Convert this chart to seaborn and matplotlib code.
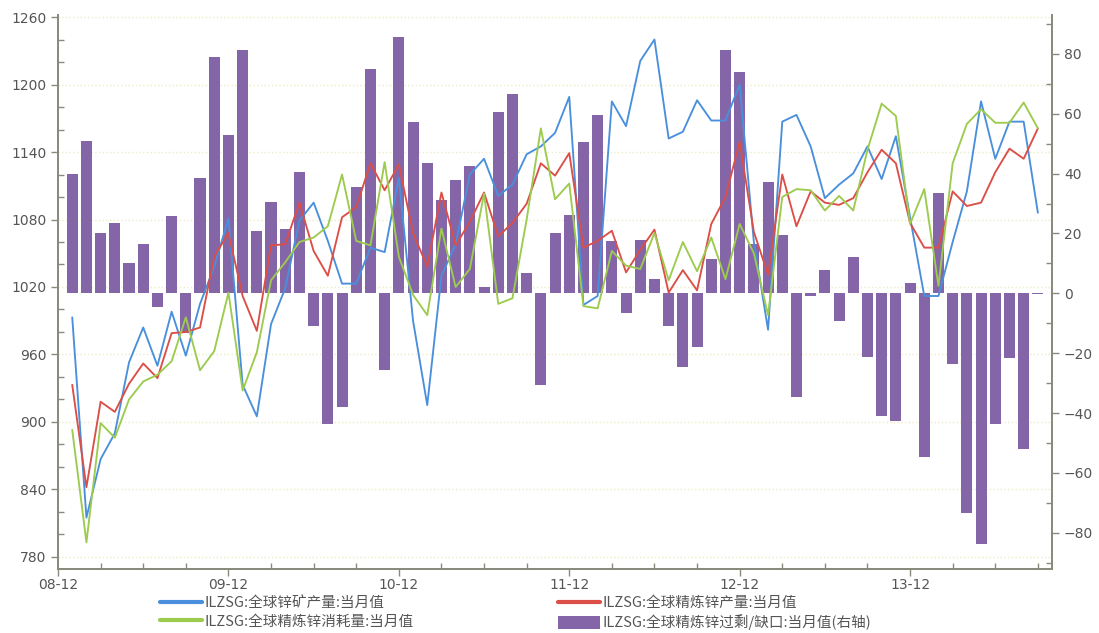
import numpy as np
import pandas as pd
import seaborn as sns
import matplotlib as mpl
import matplotlib.pyplot as plt
from matplotlib.ticker import MultipleLocator, FixedLocator
from matplotlib.lines import Line2D
from matplotlib.patches import Patch

mpl.use('Agg')

# 横轴：月份序号，0 = 2008-12
months = list(range(1, 70))
tick_pos = [0, 12, 24, 36, 48, 60]
tick_labels = ['08-12', '09-12', '10-12', '11-12', '12-12', '13-12']

# 左轴（千吨）
ore = [993, 815, 867, 890, 953, 984, 950, 998, 959, 1005, 1038, 1081, 933, 905,
       987, 1019, 1079, 1095, 1061, 1023, 1023, 1055, 1051, 1117, 990, 915, 1030, 1058,
       1120, 1134, 1101, 1111, 1138, 1145, 1157, 1189, 1004, 1012, 1185, 1163, 1221, 1240,
       1152, 1158, 1186, 1168, 1168, 1200, 1060, 982, 1167, 1173, 1145, 1099, 1111, 1121,
       1145, 1116, 1154, 1082, 1012, 1012, 1060, 1105, 1185, 1134, 1167, 1167, 1086]
refined = [933, 842, 918, 909, 934, 952, 939, 979, 980, 984, 1047, 1068, 1012, 981,
           1057, 1058, 1095, 1052, 1030, 1082, 1091, 1130, 1106, 1129, 1068, 1038, 1104, 1057,
           1078, 1104, 1065, 1077, 1094, 1130, 1119, 1139, 1055, 1061, 1070, 1033, 1053, 1071,
           1015, 1035, 1017, 1076, 1100, 1149, 1069, 1031, 1120, 1074, 1105, 1095, 1093, 1099,
           1122, 1142, 1130, 1077, 1055, 1055, 1105, 1092, 1095, 1122, 1143, 1134, 1161]
consume = [893, 793, 899, 886, 920, 936, 942, 954, 993, 946, 963, 1015, 928, 962,
           1026, 1042, 1060, 1064, 1074, 1120, 1061, 1057, 1131, 1047, 1013, 995, 1072, 1020,
           1036, 1103, 1005, 1010, 1080, 1161, 1098, 1112, 1003, 1001, 1052, 1039, 1036, 1068,
           1026, 1060, 1034, 1064, 1027, 1076, 1050, 995, 1100, 1107, 1106, 1088, 1101, 1088,
           1142, 1183, 1172, 1076, 1107, 1021, 1130, 1165, 1178, 1166, 1166, 1184, 1161]
# 右轴：过剩/缺口
balance = [40, 51, 20, 23.6, 10, 16.4, -4.5, 25.7, -13.4, 38.7, 79, 53, 81.3, 20.7,
           30.5, 21.5, 40.7, -10.8, -43.8, -38.1, 35.7, 75, -25.5, 85.8, 57.3, 43.7, 31.1, 37.9,
           42.6, 2.1, 60.7, 66.7, 6.9, -30.7, 20.1, 26.1, 50.7, 59.5, 17.4, -6.6, 17.7, 4.8,
           -10.8, -24.5, -17.9, 11.5, 81.3, 73.9, 16.5, 37.1, 19.5, -34.5, -1, 7.9, -9.1, 12.3,
           -21.3, -41.1, -42.6, 3.3, -54.7, 33.6, -23.5, -73.5, -83.7, -43.5, -21.7, -51.9, -0.3]

names = ['ILZSG:全球锌矿产量:当月值', 'ILZSG:全球精炼锌产量:当月值',
         'ILZSG:全球精炼锌消耗量:当月值', 'ILZSG:全球精炼锌过剩/缺口:当月值(右轴)']

C_BLUE, C_RED, C_GREEN, C_PURPLE = '#4a8fdb', '#dc4e48', '#9ccb4e', '#8466a8'
C_SPINE = '#8a8a7c'
C_TEXT = '#555555'
LEFT_LIM = (769.3, 1261.8)
RIGHT_LIM = (-92.1, 93)

sns.set_style('white')
plt.rcParams['font.family'] = ['DejaVu Sans', 'Noto Sans CJK SC']

fig = plt.figure(figsize=(10.99, 6.33), dpi=100)
ax = fig.add_axes([0.0528, 0.1011, 0.9045, 0.8752])   # 线（左轴）
ax2 = ax.twinx()                                      # 柱（右轴）
axg = ax.twinx()                                      # 只画网格，放在最底层

# 柱：右轴
sns.barplot(x=months, y=balance, native_scale=True, ax=ax2, color=C_PURPLE,
            saturation=1, width=0.78, errorbar=None, linewidth=0)

# 线：左轴
for vals, c in zip([ore, refined, consume], [C_BLUE, C_RED, C_GREEN]):
    sns.lineplot(x=months, y=vals, ax=ax, color=c, linewidth=1.35)

# 图层顺序：网格 < 柱 < 线
axg.set_zorder(0)
ax2.set_zorder(1)
ax.set_zorder(2)
ax.patch.set_visible(False)
ax2.patch.set_visible(False)

ax.set_xlim(0, 70)
ax.set_ylim(*LEFT_LIM)
axg.set_ylim(*LEFT_LIM)
ax2.set_ylim(*RIGHT_LIM)

ax.xaxis.set_major_locator(FixedLocator(tick_pos))
ax.set_xticklabels(tick_labels)
ax.xaxis.set_minor_locator(MultipleLocator(3))
ax.yaxis.set_major_locator(MultipleLocator(60))
ax.yaxis.set_minor_locator(MultipleLocator(20))
ax2.yaxis.set_major_locator(MultipleLocator(20))
ax2.yaxis.set_minor_locator(MultipleLocator(10))
axg.yaxis.set_major_locator(MultipleLocator(60))

ax.grid(False)
ax2.grid(False)
axg.grid(axis='y', which='major', color='#ecebc8', linestyle=':', linewidth=1.0)
axg.grid(axis='x', visible=False)
axg.tick_params(axis='both', which='both', left=False, right=False, bottom=False,
                labelleft=False, labelright=False, labelbottom=False)
for s in axg.spines.values():
    s.set_visible(False)

for a in (ax, ax2):
    a.set_xlabel('')
    a.set_ylabel('')
    a.spines['top'].set_visible(False)
    for s in ('left', 'right', 'bottom'):
        a.spines[s].set_color(C_SPINE)
        a.spines[s].set_linewidth(1.3)
    a.tick_params(which='major', direction='out', length=5, width=1, color=C_SPINE,
                  labelcolor=C_TEXT, labelsize=10)
    a.tick_params(which='minor', direction='in', length=4, width=1, color=C_SPINE)
ax.tick_params(axis='y', which='both', left=True, right=False)
ax2.tick_params(axis='y', which='both', left=False, right=True)
ax.tick_params(axis='x', which='both', bottom=True, pad=1.5)

handles = [Line2D([], [], color=C_BLUE, lw=3),
           Line2D([], [], color=C_GREEN, lw=3),
           Line2D([], [], color=C_RED, lw=3),
           Patch(facecolor=C_PURPLE, edgecolor='none')]
labels = [names[0], names[2], names[1], names[3]]
fig.legend(handles, labels, loc='lower left', bbox_to_anchor=(160 / 1099, 0.004),
           ncol=2, frameon=False, borderpad=0, borderaxespad=0,
           handlelength=2.85, handleheight=0.95, handletextpad=0.2,
           columnspacing=9.9, labelspacing=0.3,
           prop={'family': ['Noto Sans CJK SC', 'DejaVu Sans'], 'size': 10.5},
           labelcolor=C_TEXT)

fig.savefig('out.png', dpi=100)
